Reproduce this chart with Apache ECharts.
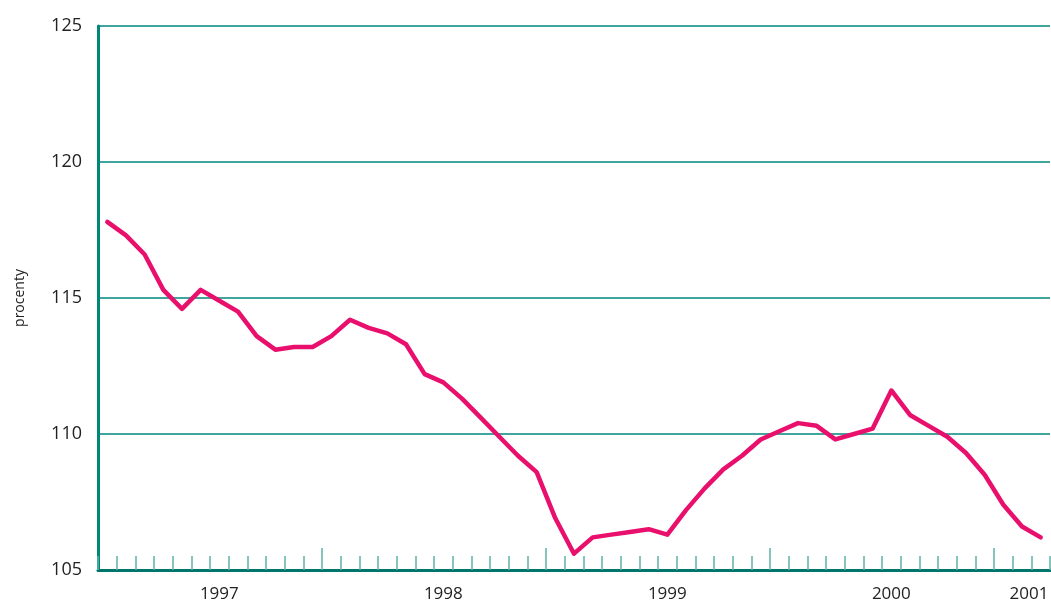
<!DOCTYPE html>
<html>
<head>
<meta charset="utf-8">
<script src="https://cdn.jsdelivr.net/npm/echarts@6/dist/echarts.min.js"></script>
<style>
  html, body { margin: 0; padding: 0; background: #fff; }
  #chart { width: 1051px; height: 605px; }
</style>
</head>
<body>
<div id="chart"></div>
<script>
// měsíce 1997-01 .. 2001-03
const months = [
  '1997-01','1997-02','1997-03','1997-04','1997-05','1997-06','1997-07','1997-08','1997-09','1997-10','1997-11','1997-12',
  '1998-01','1998-02','1998-03','1998-04','1998-05','1998-06','1998-07','1998-08','1998-09','1998-10','1998-11','1998-12',
  '1999-01','1999-02','1999-03','1999-04','1999-05','1999-06','1999-07','1999-08','1999-09','1999-10','1999-11','1999-12',
  '2000-01','2000-02','2000-03','2000-04','2000-05','2000-06','2000-07','2000-08','2000-09','2000-10','2000-11','2000-12',
  '2001-01','2001-02','2001-03'
];
const values = [
  117.8, 117.3, 116.6, 115.3, 114.6, 115.3, 114.9, 114.5, 113.6, 113.1, 113.2, 113.2,
  113.6, 114.2, 113.9, 113.7, 113.3, 112.2, 111.9, 111.3, 110.6, 109.9, 109.2, 108.6,
  106.9, 105.6, 106.2, 106.3, 106.4, 106.5, 106.3, 107.2, 108.0, 108.7, 109.2, 109.8,
  110.1, 110.4, 110.3, 109.8, 110.0, 110.2, 111.6, 110.7, 110.3, 109.9, 109.3, 108.5,
  107.4, 106.6, 106.2
];
// kde stojí popisky let (index měsíce)
const yearLabelIdx = [6, 18, 30, 42, 49];
const yTicks = [105, 110, 115, 120, 125];

const teal = '#00877c';
const tickColor = '#5fb2a9';
const font = '"Open Sans", "Noto Sans", sans-serif';

// druhý grid jen pro delší čárky (celé roky 1997-2000)
const W = 1051, L = 98, R = 1;
const band = (W - L - R) / months.length;
const fullYears = months.slice(0, 48);
const right2 = W - (L + band * fullYears.length);

const chart = echarts.init(document.getElementById('chart'));
chart.setOption({
  animation: false,
  grid: [
    { left: L, right: R, top: 26, bottom: 35, containLabel: false, outerBoundsMode: 'none' },
    { left: L, right: right2, top: 26, bottom: 35, containLabel: false, outerBoundsMode: 'none' }
  ],
  xAxis: [{
    type: 'category',
    gridIndex: 0,
    data: months,
    boundaryGap: true,
    position: 'bottom',
    axisLine: { show: true, lineStyle: { color: '#00756b', width: 3 } },
    axisTick: { show: true, inside: true, length: 14, interval: 0, lineStyle: { color: tickColor, width: 1.5 } },
    axisLabel: {
      interval: (i) => yearLabelIdx.includes(i),
      margin: 16,
      fontFamily: font,
      fontSize: 17,
      color: '#222',
      formatter: (v, i) => i === 49 ? '{r|' + v.slice(0, 4) + '}' : v.slice(0, 4),
      rich: { r: { fontFamily: font, fontSize: 17, color: '#222', padding: [0, 0, 0, 14] } }
    },
    splitLine: { show: false },
    z: 10
  }, {
    type: 'category',
    gridIndex: 1,
    data: fullYears,
    boundaryGap: true,
    position: 'bottom',
    axisLine: { show: false },
    axisTick: {
      show: true, inside: true, length: 22,
      interval: (i) => i % 12 === 0 && i > 0,
      lineStyle: { color: tickColor, width: 1.5 }
    },
    axisLabel: { show: false },
    splitLine: { show: false },
    z: 10
  }],
  yAxis: [{
    type: 'value',
    gridIndex: 0,
    min: yTicks[0],
    max: yTicks[yTicks.length - 1],
    interval: 5,
    name: 'procenty',
    nameLocation: 'middle',
    nameGap: 71,
    nameRotate: 90,
    nameTextStyle: { fontFamily: font, fontSize: 14, color: '#222' },
    axisLine: { show: true, lineStyle: { color: teal, width: 3 } },
    axisTick: { show: false },
    axisLabel: { margin: 16, fontFamily: font, fontSize: 18, color: '#222' },
    splitLine: { lineStyle: { color: teal, width: 1.5 } }
  }, {
    type: 'value',
    gridIndex: 1,
    min: yTicks[0],
    max: yTicks[yTicks.length - 1],
    show: false
  }],
  series: [{
    type: 'line',
    xAxisIndex: 0,
    yAxisIndex: 0,
    data: values,
    showSymbol: false,
    lineStyle: { color: '#e8106c', width: 4.5, join: 'round', cap: 'round' },
    z: 5
  }]
});
</script>
</body>
</html>
